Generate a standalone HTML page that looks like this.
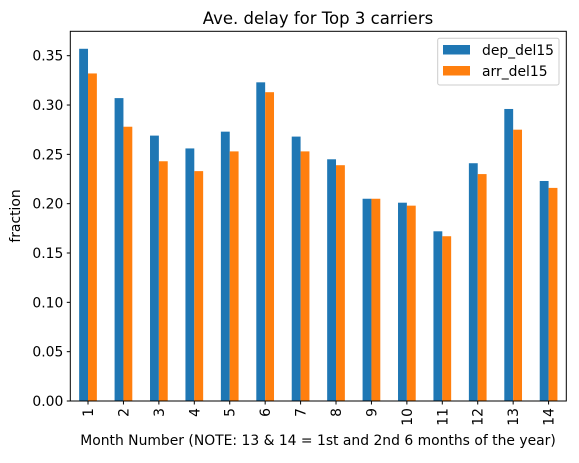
<!DOCTYPE html>
<html><head><meta charset="utf-8"><style>
body{margin:0;background:#fff}
svg{font-family:"DejaVu Sans","Liberation Sans",sans-serif}
</style></head><body>
<svg id="chart" width="579" height="458">
<text x="318" y="24" font-size="16.5" text-anchor="middle">Ave. delay for Top 3 carriers</text>
<g id="bars"></g>
<g id="yaxis"></g>
<g id="xaxis"></g>
<rect x="70.3" y="31.3" width="496" height="369.7" fill="none" stroke="#000" stroke-width="1"/>
<text transform="translate(20,216) rotate(-90)" font-size="13.9" text-anchor="middle">fraction</text>
<text x="318" y="445" font-size="13.9" text-anchor="middle">Month Number (NOTE: 13 &amp; 14 = 1st and 2nd 6 months of the year)</text>
<g>
<rect x="437.7" y="38.3" width="121.3" height="46.7" rx="2" fill="#fff" stroke="#ccc"/>
<rect x="443" y="45" width="27" height="9.5" fill="#1f77b4"/>
<text x="482" y="55" font-size="13.9">dep_del15</text>
<rect x="443" y="66" width="27" height="9.5" fill="#ff7f0e"/>
<text x="482" y="76" font-size="13.9">arr_del15</text>
</g>
</svg>
<script>
const categories=["1","2","3","4","5","6","7","8","9","10","11","12","13","14"];
const depValues=[0.357,0.307,0.269,0.256,0.273,0.323,0.268,0.245,0.205,0.201,0.172,0.241,0.296,0.223];
const arrValues=[0.332,0.278,0.243,0.233,0.253,0.313,0.253,0.239,0.205,0.198,0.167,0.230,0.275,0.216];
const yTicks=[0,0.05,0.10,0.15,0.20,0.25,0.30,0.35];
const NS="http://www.w3.org/2000/svg";
const L=70.3,R=566.3,B=401,PX=986.6;
const y=v=>B-v*PX;
const step=(R-L)/categories.length;
const x=i=>L+step*(i+0.5);
const bw=step*0.25;
const bars=document.getElementById('bars'),ya=document.getElementById('yaxis'),xa=document.getElementById('xaxis');
function mk(t,a,p){const e=document.createElementNS(NS,t);for(const k in a)e.setAttribute(k,a[k]);p.appendChild(e);return e;}
categories.forEach((c,i)=>{
  const r1=mk('rect',{x:x(i)-bw,y:y(depValues[i]),width:bw,height:B-y(depValues[i]),fill:'#1f77b4'},bars);
  
  
  const r2=mk('rect',{x:x(i),y:y(arrValues[i]),width:bw,height:B-y(arrValues[i]),fill:'#ff7f0e'},bars);
  
  
  const tk=mk('line',{x1:x(i),x2:x(i),y1:B,y2:B+3.5,stroke:'#000'},xa);
  
  
  const t=mk('text',{transform:`translate(${x(i)+5},${B+7}) rotate(-90)`,'font-size':'13.9','text-anchor':'end'},xa);
  t.textContent=c;
  
  
});
yTicks.forEach(v=>{
  const tk=mk('line',{x1:L-3.5,x2:L,y1:y(v),y2:y(v),stroke:'#000'},ya);
  
  
  const t=mk('text',{x:L-7,y:y(v)+5,'font-size':'13.9','text-anchor':'end'},ya);
  t.textContent=v.toFixed(2);
  
  
});
</script>
</body></html>
